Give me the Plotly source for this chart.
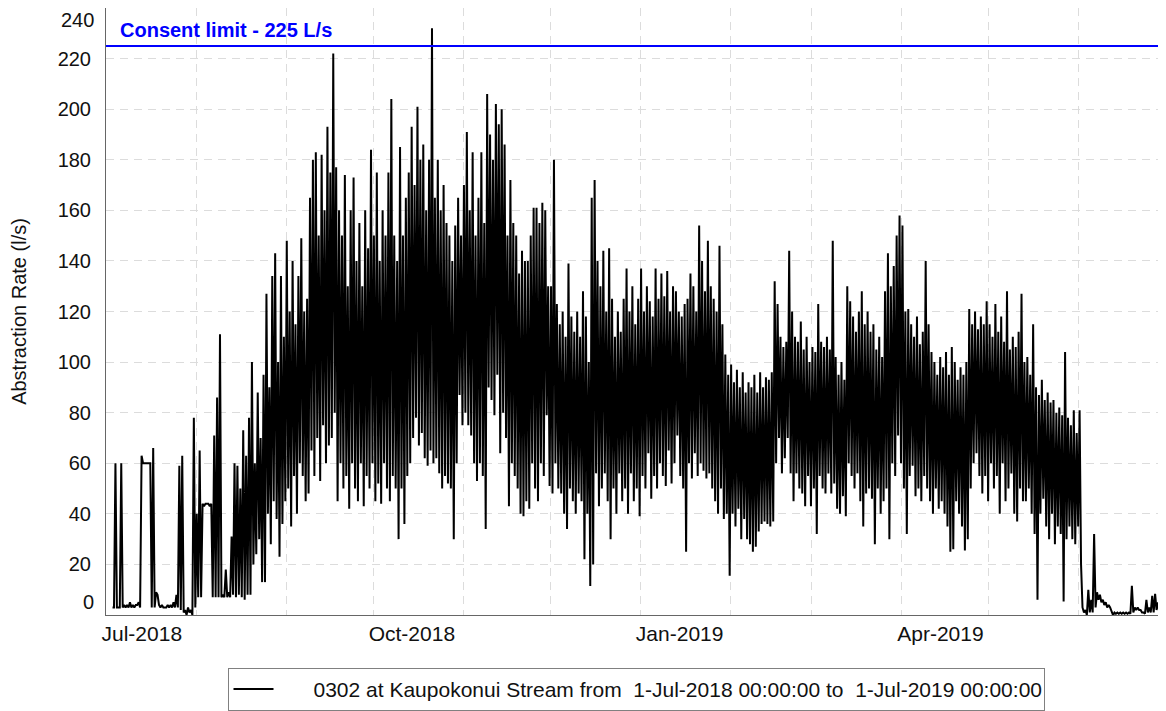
import pandas as pd
import plotly.graph_objects as go

# ---------------- data ----------------
start_date = "2018-07-01"
end_date = "2019-07-01"
consent_limit = 225
consent_text = "Consent limit - 225 L/s"
series_name = "0302 at Kaupokonui Stream from \u00a01-Jul-2018 00:00:00 to \u00a01-Jul-2019 00:00:00"
y_title = "Abstraction Rate (l/s)"
y_ticks = [20, 40, 60, 80, 100, 120, 140, 160, 180, 200, 220]
y_edge_ticks = [0, 240]

# daily high values (l/s), one per day from 1-Jul-2018
daily_high = [
    None, None, 3, 60, 3, 60, 4, 4, 5, 4,
    4, 5, 63, 60, 60, 60, 66, 9, 4, 4,
    3, 4, 4, 5, 8, 59, 63, 2, 3, 2,
    78, 40, 65, 44, 44, 44, 44, 71, 86, 111,
    8, 18, 9, 31, 60, 59, 50, 73, 63, 78,
    100, 60, 88, 70, 95, 127, 90, 134, 143, 100,
    134, 110, 148, 120, 140, 115, 134, 149, 120, 125,
    165, 180, 183, 150, 182, 160, 193, 175, 222, 177,
    160, 150, 174, 130, 160, 173, 140, 155, 130, 160,
    145, 184, 150, 175, 140, 160, 150, 175, 204, 150,
    140, 185, 150, 165, 175, 193, 170, 201, 180, 186,
    160, 180, 232, 165, 180, 160, 170, 155, 150, 140,
    154, 165, 150, 170, 191, 160, 183, 150, 165, 183,
    155, 206, 190, 180, 202, 194, 200, 186, 150, 172,
    155, 150, 135, 144, 140, 140, 150, 161, 161, 155,
    163, 160, 130, 130, 180, 123, 115, 120, 110, 139,
    118, 112, 120, 110, 128, 118, 100, 165, 172, 140,
    130, 144, 120, 145, 125, 110, 120, 112, 125, 137,
    120, 130, 115, 125, 137, 120, 130, 124, 118, 137,
    125, 135, 126, 136, 120, 130, 128, 120, 118, 123,
    125, 135, 130, 120, 154, 140, 128, 148, 130, 125,
    120, 146, 115, 103, 95, 99, 92, 97, 90, 96,
    88, 92, 90, 95, 88, 96, 90, 94, 93, 96,
    132, 123, 110, 106, 108, 144, 120, 110, 108, 116,
    105, 110, 100, 106, 104, 123, 108, 106, 110, 105,
    148, 102, 95, 100, 93, 130, 124, 118, 112, 120,
    128, 115, 120, 112, 115, 105, 110, 102, 128, 143,
    130, 138, 150, 158, 154, 120, 121, 115, 110, 118,
    107, 112, 140, 115, 104, 100, 95, 102, 98, 104,
    95, 106, 100, 93, 98, 95, 100, 121, 115, 120,
    113, 118, 115, 124, 115, 110, 123, 112, 118, 108,
    128, 105, 110, 106, 112, 127, 100, 102, 95, 115,
    90, 87, 93, 85, 88, 84, 85, 80, 82, 79,
    104, 78, 75, 81, 72, 81, 3, 2, 10, 6,
    32, 9, 8, 6, 5, 4, 1, 1, 1, 1,
    1, 1, 1, 11.5, 3, 3, 2, 1, 6, 3,
    7.6, 8.4, 5, 3, None,
]

# daily low values (l/s)
daily_low = [
    None, None, 3, 3, 3, 3, 3, 3, 3, 3,
    4, 3, 60, 60, 60, 3, 3, 8, 3, 3,
    3, 3, 3, 3, 3, 2, 1, 0, 1, 0,
    3, 7, 7, 43, 44, 43, 7, 7, 7, 7,
    7, 7, 7, 8, 7, 8, 7, 6, 8, 8,
    20, 24, 30, 13, 13, 40, 28, 45, 38, 23,
    36, 45, 50, 35, 55, 40, 60, 55, 45, 48,
    65, 55, 70, 53, 75, 60, 67, 70, 80, 45,
    60, 50, 55, 42, 60, 50, 45, 60, 43, 55,
    50, 60, 45, 52, 44, 60, 50, 45, 55, 50,
    30, 50, 36, 55, 60, 70, 78, 67, 72, 62,
    59, 65, 60, 62, 56, 50, 55, 52, 50, 30,
    60, 87, 75, 80, 75, 71, 60, 53, 60, 55,
    34, 90, 85, 79, 95, 64, 80, 70, 43, 60,
    55, 50, 40, 39, 45, 42, 60, 50, 45, 60,
    55, 79, 51, 48, 60, 50, 48, 40, 34, 50,
    45, 40, 48, 45, 22, 40, 11.5, 20, 56, 43,
    50, 56, 45, 30, 50, 40, 56, 45, 50, 40,
    56, 45, 50, 39, 55, 50, 64, 46, 55, 50,
    60, 55, 51, 65, 52, 60, 71, 55, 50, 25,
    60, 54, 64, 55, 60, 57, 54, 56, 50, 45,
    40, 50, 38, 40, 15.5, 40, 35, 42, 30, 38,
    30, 28, 25, 27, 33, 36, 37, 36, 35, 37,
    60, 70, 56, 62, 70, 56, 45, 56, 50, 48,
    43, 55, 43, 50, 32, 55, 50, 48, 56, 48,
    52, 42, 40, 47, 39, 60, 55, 50, 56, 45,
    35, 48, 50, 46, 28, 50, 40, 45, 50, 30,
    60, 55, 71, 60, 50, 32, 55, 59, 47, 50,
    45, 55, 50, 45, 40, 50, 42, 45, 40, 35,
    25, 26, 45, 40, 35, 25.5, 30, 50, 60, 64,
    55, 48, 55, 45, 60, 50, 55, 40, 60, 45,
    50, 56, 40, 37, 50, 45, 45, 50, 40, 32,
    6, 40, 46, 35, 30, 40, 28, 35, 32, 5.3,
    30, 35, 30, 28, 35, 20, 1, 0, 1, 1,
    3, 6, 5, 4, 3, 3, 0, 0.5, 0.5, 0.5,
    0.5, 0.5, 0.5, 1, 2, 2, 1, 0.5, 1, 1,
    1, 2, 1, 1, None,
]

# ---------------- build the time series ----------------
t0 = pd.Timestamp(start_date)
xs, ys = [], []
for d, (h, l) in enumerate(zip(daily_high, daily_low)):
    day = t0 + pd.Timedelta(days=d)
    xs.append(day + pd.Timedelta(hours=6))
    ys.append(h)
    xs.append(day + pd.Timedelta(hours=18))
    ys.append(l)

FONT = "Liberation Sans, Arial, sans-serif"
GRID = "#dcdcdc"
TXT = "#111"
LEGEND_PAD = "\u00a0" * 6

fig = go.Figure()
fig.add_trace(go.Scatter(
    x=xs, y=ys, mode="lines", name=LEGEND_PAD + series_name,
    line=dict(color="black", width=2), connectgaps=False,
))

fig.add_hline(y=consent_limit, line=dict(color="#0000ff", width=2))
fig.add_annotation(
    text=f"<b>{consent_text}</b>", xref="paper", x=0.011, xanchor="left",
    yref="y", y=consent_limit, yanchor="bottom", yshift=3, showarrow=False,
    font=dict(family=FONT, size=20, color="#0000ff"),
)
for v, sh in zip(y_edge_ticks, [13, -12]):
    fig.add_annotation(
        text=str(v), xref="paper", x=0, xanchor="right", xshift=-10,
        yref="y", y=v, yanchor="middle", yshift=sh, showarrow=False,
        font=dict(family=FONT, size=20, color=TXT),
    )

# the page body has an 8px margin: figure is placed at (8, 8) in the window
fig.update_layout(
    width=1158, height=703,
    margin=dict(l=98, r=0, t=0, b=94),
    paper_bgcolor="white", plot_bgcolor="white",
    font=dict(family=FONT, size=20, color=TXT),
    showlegend=True,
    legend=dict(
        orientation="h", x=0.5, xanchor="center", y=-0.087, yanchor="top",
        bordercolor="#808080", borderwidth=1, bgcolor="white",
        font=dict(family=FONT, size=21, color=TXT),
        itemwidth=40, entrywidth=760, entrywidthmode="pixels",
    ),
)

fig.update_xaxes(
    type="date", range=[start_date, end_date],
    tick0=start_date, dtick="M3", tickformat="%b-%Y",
    ticklabelposition="outside right", ticks="", ticklabelstandoff=0,
    ticklabelshift=-5,
    showgrid=True, gridcolor=GRID, griddash="8px,6px", gridwidth=1,
    minor=dict(dtick="M1", showgrid=True, gridcolor=GRID, griddash="8px,6px", gridwidth=1),
    showline=True, linecolor="#666", linewidth=1, mirror=True,
    zeroline=False, tickfont=dict(size=21, color=TXT),
)
fig.update_yaxes(
    range=[0, 240], tickvals=y_ticks, ticks="", ticklabelstandoff=10,
    showgrid=True, gridcolor=GRID, griddash="8px,6px", gridwidth=1,
    showline=True, linecolor="#666", linewidth=1, mirror=False,
    zeroline=False, tickfont=dict(size=20, color=TXT),
    title=dict(text=y_title, standoff=26, font=dict(size=20, color=TXT)),
)

fig.write_html("out.html")
